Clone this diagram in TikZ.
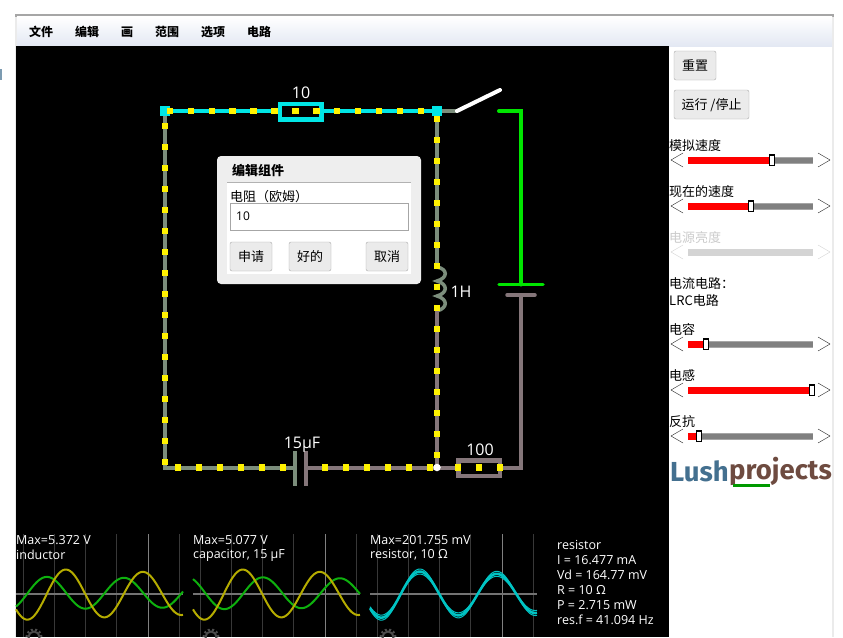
\documentclass[tikz,border=0pt]{standalone}
\usepackage{fontspec}
\usetikzlibrary{calc}
\setmainfont{Open Sans}
\newfontfamily\cjk{Noto Sans CJK SC}
\newfontfamily\logofont{Fira Sans}
\definecolor{wiregreen}{HTML}{7C8E7C}
\definecolor{wirebrown}{HTML}{85767A}
\definecolor{livegreen}{HTML}{00E600}
\definecolor{livecyan}{HTML}{00E6E6}
\definecolor{scopeyellow}{HTML}{B5AC00}
\definecolor{scopegreen}{HTML}{0EB00E}
\definecolor{scopecyan}{HTML}{00C4C4}
\definecolor{lushblue}{HTML}{44708F}
\definecolor{lushbrown}{HTML}{6E4B40}
\definecolor{menulow}{HTML}{E3E8F3}
\tikzset{
    wire/.style={line width=4pt, line cap=round},
    curdot/.style={fill=yellow, inner sep=0pt, minimum size=6.5pt},
    joint/.style={fill=livecyan, inner sep=0pt, minimum size=10pt},
    valuebox/.style={draw=#1, fill=black, line width=4.5pt, inner sep=0pt, minimum height=15.5pt},
    cirlabel/.style={text=white, font=\fontsize{16}{18}\selectfont},
    scopelabel/.style={text=white, anchor=west, inner sep=0pt, font=\fontsize{12.5}{14}\selectfont},
    menuitem/.style={anchor=west, inner sep=0pt, font=\cjk\fontsize{12}{14}\selectfont\bfseries},
    panellabel/.style={anchor=west, inner sep=0pt, font=\cjk\fontsize{13}{15}\selectfont},
    uibutton/.style={draw=black!33, fill=black!8, rounded corners=2pt, inner sep=0pt, minimum height=29pt, text height=10pt, text depth=1pt, font=\cjk\fontsize{13}{15}\selectfont},
}
\begin{document}
\begin{tikzpicture}[x=1pt, y=-1pt]
    \useasboundingbox (0,0) rectangle (843,637);
    \fill[white] (0,0) rectangle (843,637);
    \fill[lushblue!70] (0,69) rectangle (2,80);
    % window and menu
    \fill[black!8] (15,15) rectangle (17,637);
    \fill[black!8] (832,15) rectangle (834,637);
    \fill[black!35] (15,14) rectangle (834,16.5);
    \shade[top color=white, bottom color=menulow] (17,16.5) rectangle (832,46);
    \fill[black] (16,46) rectangle (669,637);
    \foreach \mx/\mtext [count=\mi] in {29/文件, 75/编辑, 121/画, 155/范围, 201/选项, 247/电路}
        \node[menuitem] (menu\mi) at (\mx,32) {\mtext};

    % circuit points
    \coordinate (tl) at (165,111);
    \coordinate (tr) at (437,111);
    \coordinate (bl) at (165,467.5);
    \coordinate (br) at (437,467.5);
    \coordinate (swa) at (457,111);
    \coordinate (swb) at (500,90);
    \coordinate (greenend) at (499,111);
    \coordinate (greencorner) at (521,111);
    \coordinate (battop) at (521,284.5);
    \coordinate (batlow) at (521,295);
    \coordinate (brcorner) at (521,467.5);
    \coordinate (coiltop) at (437,267);
    \coordinate (coilend) at (437,311);
    \coordinate (capa) at (295,467.5);
    \coordinate (capb) at (306,467.5);

    % wires
    \draw[wire, livecyan] (tl) -- (tr);
    \draw[wire, wiregreen] (tl) -- (bl) -- (capa);
    \draw[wire, wiregreen] (tr) -- (coiltop) (tr) -- (swa);
    \draw[wire, wiregreen, line width=3.5pt] (coiltop) .. controls (448,269) and (448,278) .. (437,281)
        .. controls (448,284) and (448,293) .. (437,296)
        .. controls (448,299) and (448,308) .. (437,311);
    \draw[wire, wirebrown] (coilend) -- (br);
    \draw[wire, wirebrown] (capb) -- (brcorner) -- (batlow);
    \draw[wire, livegreen] (battop) -- (greencorner) -- (greenend);
    \draw[wire, white] (swa) -- (swb);
    \node[valuebox=livecyan, minimum width=41.5pt] (rten) at (300.5,111.5) {};
    \node[valuebox=wirebrown, minimum width=41.5pt] (rhun) at (479,468.3) {};
    \draw[wire, wiregreen, line cap=butt] ($(capa)+(0,-16.5)$) -- ($(capa)+(0,18)$);
    \draw[wire, wirebrown, line cap=butt] ($(capb)+(0,-16.5)$) -- ($(capb)+(0,18)$);
    \draw[wire, livegreen, line width=3.5pt] (499,284.5) -- (543,284.5);
    \draw[wire, wirebrown, line width=3.5pt] (507,295) -- (535,295);

    % joints
    \node[joint] (jtl) at (tl) {};
    \node[joint] (jtr) at (tr) {};
    \node[circle, fill=white, inner sep=0pt, minimum size=7.5pt] (jbr) at (br) {};

    % current dots
    \foreach \dx [count=\di] in {170,190.9,...,430}
        \node[curdot] (dtop\di) at (\dx,111) {};
    \foreach \dy [count=\di] in {126,147,...,465}
        \node[curdot] (dleft\di) at (165,\dy) {};
    \foreach \dy [count=\di] in {119,140,...,456}
        \node[curdot] (dright\di) at (437,\dy) {};
    \foreach \dx [count=\di] in {178,199,...,284}
        \node[curdot] (dlow\di) at (\dx,467.5) {};
    \foreach \dx [count=\di] in {325,346,367,388,409,430,458,479,500}
        \node[curdot] (dhigh\di) at (\dx,467.5) {};

    % value labels
    \node[cirlabel] (lten) at (301,93) {10};
    \node[cirlabel] (lhenry) at (461,292) {1H};
    \node[cirlabel] (lfarad) at (302,445) {15µF};
    \node[cirlabel] (lhun) at (480,450) {100};

    % dialog
    \fill[black!6.5, rounded corners=4pt] (217,156) rectangle (421,284);
    \fill[white] (227,183) rectangle (411,274);
    \draw[black!30] (227,182.5) -- (411,182.5);
    \node[menuitem, font=\cjk\fontsize{13}{15}\selectfont\bfseries] (dtitle) at (232,170.5) {编辑组件};
    \node[panellabel] (dfield) at (230,196.5) {电阻（欧姆）};
    \node[draw=black!35, minimum width=178pt, minimum height=27pt, inner sep=0pt] (dinput) at (319,216.5) {};
    \node[anchor=west, inner sep=0pt, font=\fontsize{12}{14}\selectfont] (dvalue) at (236,216.5) {10};
    \node[uibutton, minimum width=42pt] (bapply) at (251,256.5) {申请};
    \node[uibutton, minimum width=42pt] (bok) at (310,256.5) {好的};
    \node[uibutton, minimum width=42pt] (bcancel) at (387,256.5) {取消};

    % side panel
    \node[uibutton, minimum width=42pt] (breset) at (695,65.5) {重置};
    \node[uibutton, minimum width=75pt] (brun) at (711.5,104.5) {运行 /停止};
    \foreach \sy/\sx/\stext [count=\si] in {160/772/模拟速度, 206/751/现在的速度, 344/706/电容, 390/812/电感, 436/699/反抗} {
        \node[panellabel] (slabel\si) at (669,\sy-14.5) {\stext};
        \draw[black!85] (683,\sy-7) -- (671,\sy) -- (683,\sy+7);
        \draw[black!85] (818,\sy-7) -- (830,\sy) -- (818,\sy+7);
        \fill[black!35] (688,\sy-3.5) rectangle (813,\sy+3.5);
        \fill[black!50] (688,\sy-2.5) rectangle (813,\sy+2.5);
        \fill[red] (688,\sy-3.5) rectangle (\sx,\sy+3.5);
        \node[draw=black, fill=white, line width=1.5pt, inner sep=0pt, minimum width=5pt, minimum height=10.5pt] (thumb\si) at (\sx,\sy) {};
    }
    \node[panellabel, text=black!20] (slabel6) at (669,237.5) {电源亮度};
    \draw[black!17] (683,245) -- (671,252) -- (683,259);
    \draw[black!17] (818,245) -- (830,252) -- (818,259);
    \fill[black!17] (688,248.5) rectangle (813,255.5);
    \node[panellabel] (ltitle) at (669,283.5) {电流电路：};
    \node[panellabel] (lname) at (669,300.5) {LRC电路};

    % logo
    \node[anchor=west, inner sep=0pt, text=lushblue, font=\logofont\bfseries\fontsize{27.5}{30}\selectfont] (logoa) at (670,471) {Lush};
    \node[anchor=west, inner sep=0pt, text=lushbrown, font=\logofont\bfseries\fontsize{27.5}{30}\selectfont] (logob) at (logoa.east) {projects};
    \fill[green!60!black] (733,484) rectangle (770,486.5);

    % scopes
    \foreach \sshift/\gpeak in {0/47, 177/86, 354/0} {
    \begin{scope}[xshift=\sshift pt]
        \foreach \vx in {23,54,85,116,179}
            \draw[black!78, line width=1pt] (\vx,534) -- (\vx,637);
        \draw[black!50, line width=1pt] (148,534) -- (148,637);
        \draw[black!55, line width=1.5pt] (16,594) -- (183,594);
        \ifnum\gpeak>0
            \draw[scopegreen, line width=2pt] plot[domain=16:183, samples=100] (\x,{593-(16.5-0.012*(\x-16))*cos((\x-\gpeak)/77*360)});
            \draw[scopeyellow, line width=2pt] plot[domain=16:183, samples=100] (\x,{594-(26-0.03*(\x-16))*cos((\x-66)/77*360)});
        \else
            \foreach \da in {-2.5,2.5}
                \draw[scopecyan, line width=1pt] plot[domain=16:183, samples=100] (\x,{594-(24+\da-0.03*(\x-16))*cos((\x-66)/77*360)});
            \draw[scopecyan, line width=2.5pt] plot[domain=16:183, samples=100] (\x,{594-(24-0.03*(\x-16))*cos((\x-66)/77*360)});
        \fi
        \draw[black!70, line width=2pt] (34,637) circle (5.5pt);
        \draw[black!70, line width=2pt, dash pattern=on 2pt off 2.3pt] (34,637) circle (7.5pt);
    \end{scope}
    }
    \node[scopelabel] (sca) at (16,540) {Max=5.372 V};
    \node[scopelabel] (scb) at (16,555) {inductor};
    \node[scopelabel] (scc) at (193,540) {Max=5.077 V};
    \node[scopelabel] (scd) at (193,555) {capacitor, 15 µF};
    \node[scopelabel] (sce) at (370,540) {Max=201.755 mV};
    \node[scopelabel] (scf) at (370,555) {resistor, 10 Ω};
    \foreach \itext [count=\ii] in {resistor, I = 16.477 mA, Vd = 164.77 mV, R = 10 Ω, P = 2.715 mW, res.f = 41.094 Hz}
        \node[scopelabel] (info\ii) at (557,530+15*\ii) {\itext};
\end{tikzpicture}
\end{document}
